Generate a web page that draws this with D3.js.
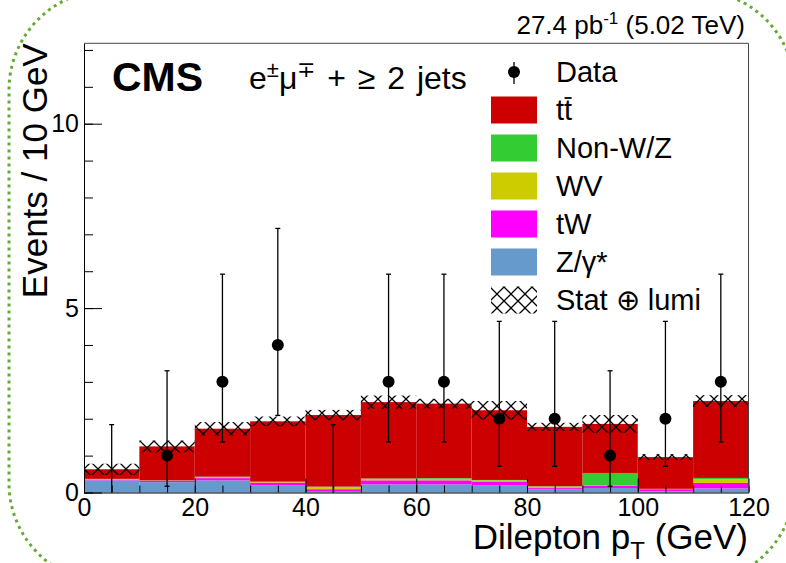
<!DOCTYPE html>
<html>
<head>
<meta charset="utf-8">
<script src="https://cdn.jsdelivr.net/npm/d3@7"></script>
<style>
  html, body { margin: 0; padding: 0; background: #ffffff; }
  svg { display: block; font-family: "Liberation Sans", Arial, Helvetica, sans-serif; }
</style>
</head>
<body>
<svg id="chart" width="786" height="563"></svg>
<script>
// Dilepton pT, 10 GeV bins
const binEdges = [0, 10, 20, 30, 40, 50, 60, 70, 80, 90, 100, 110, 120];

// Observed events and their error-bar ends
const dataCounts = [0, 1, 3, 4, 0, 3, 3, 2, 2, 1, 2, 3];
const dataLow    = [0, 0.17, 1.37, 2.09, 0, 1.37, 1.37, 0.71, 0.71, 0.17, 0.71, 1.37];
const dataHigh   = [1.84, 3.30, 5.92, 7.16, 1.84, 5.92, 5.92, 4.64, 4.64, 3.30, 4.64, 5.92];

// Expected contributions per bin (stacked bottom to top)
const zGamma = [0.33, 0.28, 0.33, 0.19, 0.02, 0.22, 0.22, 0.19, 0.08, 0.12, 0.03, 0.11];
const tW     = [0.02, 0.04, 0.06, 0.08, 0.07, 0.11, 0.11, 0.11, 0.04, 0.07, 0.06, 0.15];
const wV     = [0.01, 0.005, 0.03, 0.02, 0.05, 0.04, 0.04, 0.03, 0.04, 0.01, 0.01, 0.10];
const nonWZ  = [0.01, 0.005, 0.01, 0.005, 0.02, 0.01, 0.02, 0.01, 0.01, 0.33, 0.0, 0.035];
const ttbar  = [0.26, 0.92, 1.30, 1.635, 1.94, 2.07, 2.02, 1.89, 1.61, 1.33, 0.86, 2.085];

// Stat (+) lumi uncertainty on the total expectation
const statLumiErr = [0.15, 0.16, 0.18, 0.13, 0.14, 0.18, 0.13, 0.25, 0.11, 0.24, 0.08, 0.16];

// Axis ticks
const xMajorTicks = [0, 20, 40, 60, 80, 100, 120];
const xMinorTicks = d3.range(0, 121, 5);
const yMajorTicks = [0, 5, 10];
const yMinorTicks = d3.range(0, 13, 1);

// Legend
const legendLabels = ["Data", "tt", "Non-W/Z", "WV", "tW", "Z/\u03B3*", "Stat \u2295 lumi"];
const processKeys   = ["zGamma", "tW", "wV", "nonWZ", "ttbar"];
const processColors = { ttbar: "#cc0000", nonWZ: "#33cc33", wV: "#cccc00", tW: "#ff00ff", zGamma: "#6699cc" };

const svg = d3.select("#chart");
const margin = { left: 84, right: 748.5, top: 43.3, bottom: 492.5 };

const x = d3.scaleLinear().domain([0, 120]).range([margin.left, margin.right]);
const y = d3.scaleLinear().domain([0, 12.18]).range([margin.bottom, margin.top]);

// Cross-hatch pattern for the uncertainty band
const defs = svg.append("defs");
const pat = defs.append("pattern")
  .attr("id", "hatch").attr("patternUnits", "userSpaceOnUse")
  .attr("width", 14).attr("height", 14).attr("x", x(0) - 7).attr("y", 0);
pat.append("path").attr("d", "M0,0 L14,14 M14,0 L0,14")
  .attr("stroke", "#000").attr("stroke-width", 1.3).attr("fill", "none");

// Decorative dotted rounded frame
svg.append("rect")
  .attr("x", 9).attr("y", -10).attr("width", 786).attr("height", 593).attr("rx", 100).attr("ry", 100)
  .attr("fill", "none").attr("stroke", "#66aa33").attr("stroke-width", 3)
  .attr("stroke-dasharray", "3 4");

// Stacked expectation
const rows = binEdges.slice(0, -1).map((lo, i) => ({
  lo, hi: binEdges[i + 1],
  zGamma: zGamma[i], tW: tW[i], wV: wV[i], nonWZ: nonWZ[i], ttbar: ttbar[i]
}));
const stacked = d3.stack().keys(processKeys)(rows);

const plot = svg.append("g");
stacked.forEach(layer => {
  plot.append("g").attr("fill", processColors[layer.key])
    .selectAll("rect").data(layer).join("rect")
    .attr("x", d => x(d.data.lo))
    .attr("width", d => x(d.data.hi) - x(d.data.lo))
    .attr("y", d => y(d[1]))
    .attr("height", d => Math.max(0, y(d[0]) - y(d[1])));
});

// Uncertainty band
const totals = rows.map(r => processKeys.reduce((s, k) => s + r[k], 0));
plot.append("g").selectAll("rect").data(rows).join("rect")
  .attr("x", d => x(d.lo))
  .attr("width", d => x(d.hi) - x(d.lo))
  .attr("y", (d, i) => y(totals[i] + statLumiErr[i]))
  .attr("height", (d, i) => y(totals[i] - statLumiErr[i]) - y(totals[i] + statLumiErr[i]))
  .attr("fill", "url(#hatch)");

// Data points with error bars
const pts = rows.map((r, i) => ({ xc: (r.lo + r.hi) / 2, n: dataCounts[i], lo: dataLow[i], hi: dataHigh[i] }));
const dg = plot.append("g");
dg.selectAll("line.bar").data(pts).join("line").attr("class", "bar")
  .attr("x1", d => x(d.xc)).attr("x2", d => x(d.xc))
  .attr("y1", d => y(d.lo)).attr("y2", d => y(d.hi))
  .attr("stroke", "#000").attr("stroke-width", 1.3);
dg.selectAll("line.cap").data(pts.flatMap(d => [d.hi].concat(d.n > 0 ? [d.lo] : []).map(v => ({ xc: d.xc, v }))))
  .join("line").attr("class", "cap")
  .attr("x1", d => x(d.xc) - 2.5).attr("x2", d => x(d.xc) + 2.5)
  .attr("y1", d => y(d.v)).attr("y2", d => y(d.v))
  .attr("stroke", "#000").attr("stroke-width", 1.3);
dg.selectAll("circle").data(pts.filter(d => d.n > 0)).join("circle")
  .attr("cx", d => x(d.xc)).attr("cy", d => y(d.n)).attr("r", 6).attr("fill", "#000");

// Axes
const yAxis = svg.append("g").attr("transform", `translate(${margin.left},0)`);
yAxis.call(d3.axisLeft(y).tickValues(yMinorTicks).tickSize(-9).tickSizeOuter(0).tickFormat(""));
const yAxisMajor = svg.append("g").attr("transform", `translate(${margin.left},0)`)
  .call(d3.axisLeft(y).tickValues(yMajorTicks).tickSize(-18).tickSizeOuter(0).tickPadding(5).tickFormat(d3.format("d")));
yAxisMajor.select(".domain").remove();
yAxisMajor.selectAll("text").attr("font-size", 25).attr("font-family", "Liberation Sans, Arial, sans-serif").attr("fill", "#000");

const xAxis = svg.append("g").attr("transform", `translate(0,${margin.bottom})`);
xAxis.call(d3.axisBottom(x).tickValues(xMinorTicks).tickSize(-7).tickSizeOuter(0).tickFormat(""));
const xAxisMajor = svg.append("g").attr("transform", `translate(0,${margin.bottom})`)
  .call(d3.axisBottom(x).tickValues(xMajorTicks).tickSize(-14).tickSizeOuter(0).tickPadding(6).tickFormat(d3.format("d")));
xAxisMajor.select(".domain").remove();
xAxisMajor.selectAll("text").attr("font-size", 25).attr("font-family", "Liberation Sans, Arial, sans-serif").attr("fill", "#000");
svg.selectAll(".domain").attr("stroke", "#000");

// Top and right frame
svg.append("path")
  .attr("d", `M${margin.left},${margin.top} H${margin.right} V${margin.bottom}`)
  .attr("fill", "none").attr("stroke", "#444").attr("stroke-width", 1);

// Axis titles
svg.append("text")
  .attr("transform", `translate(47,${margin.top}) rotate(-90)`)
  .attr("text-anchor", "end").attr("font-size", 35).text("Events / 10 GeV");

const xt = svg.append("text").attr("x", 748).attr("y", 549).attr("text-anchor", "end").attr("font-size", 35);
xt.append("tspan").text("Dilepton p");
xt.append("tspan").attr("font-size", 24).attr("dy", 10).text("T");
xt.append("tspan").attr("dy", -10).text(" (GeV)");

// Luminosity label
const lumi = svg.append("text").attr("x", 745).attr("y", 34).attr("text-anchor", "end").attr("font-size", 26);
lumi.append("tspan").text("27.4 pb");
lumi.append("tspan").attr("font-size", 17).attr("dy", -10).text("-1");
lumi.append("tspan").attr("dy", 10).text(" (5.02 TeV)");

// CMS label and selection
svg.append("text").attr("x", 112).attr("y", 91).attr("font-size", 41).attr("font-weight", "bold").text("CMS");
const sel = svg.append("text").attr("x", 249).attr("y", 89).attr("font-size", 32).attr("word-spacing", 3);
sel.append("tspan").text("e");
sel.append("tspan").attr("font-size", 22).attr("dy", -12).text("\u00B1");
sel.append("tspan").attr("dy", 12).text("\u03BC");
sel.append("tspan").attr("font-size", 22).attr("dy", -12).text("\u2213");
sel.append("tspan").attr("dy", 12).text(" + \u2265 2 jets");

// Legend
const lg = svg.append("g");
const rowY = i => 72 + i * 38;
const boxX = 491, boxW = 46, boxH = 27, textX = 556;
// Data entry
lg.append("line").attr("x1", boxX + boxW / 2).attr("x2", boxX + boxW / 2)
  .attr("y1", rowY(0) - 10).attr("y2", rowY(0) + 12).attr("stroke", "#000").attr("stroke-width", 1.3);
lg.append("circle").attr("cx", boxX + boxW / 2).attr("cy", rowY(0)).attr("r", 6).attr("fill", "#000");
// Process entries
const legendKeys = ["ttbar", "nonWZ", "wV", "tW", "zGamma"];
legendKeys.forEach((k, j) => {
  lg.append("rect").attr("x", boxX).attr("y", rowY(j + 1) - boxH / 2)
    .attr("width", boxW).attr("height", boxH).attr("fill", processColors[k]);
});
lg.append("rect").attr("x", boxX).attr("y", rowY(6) - boxH / 2)
  .attr("width", boxW).attr("height", boxH).attr("fill", "url(#hatch)");
legendLabels.forEach((t, i) => {
  const el = lg.append("text").attr("x", textX).attr("y", rowY(i) + 10).attr("font-size", 29).text(t);
  if (i === 1) {
    // bar over the second t of the ttbar label
    const node = el.node();
    const s = node.getStartPositionOfChar(1);
    const w = node.getSubStringLength(1, 1);
    lg.append("line").attr("x1", s.x + 0.5).attr("x2", s.x + w - 0.5)
      .attr("y1", rowY(i) + 10 - 22).attr("y2", rowY(i) + 10 - 22)
      .attr("stroke", "#000").attr("stroke-width", 1.8);
  }
});
</script>
</body>
</html>
